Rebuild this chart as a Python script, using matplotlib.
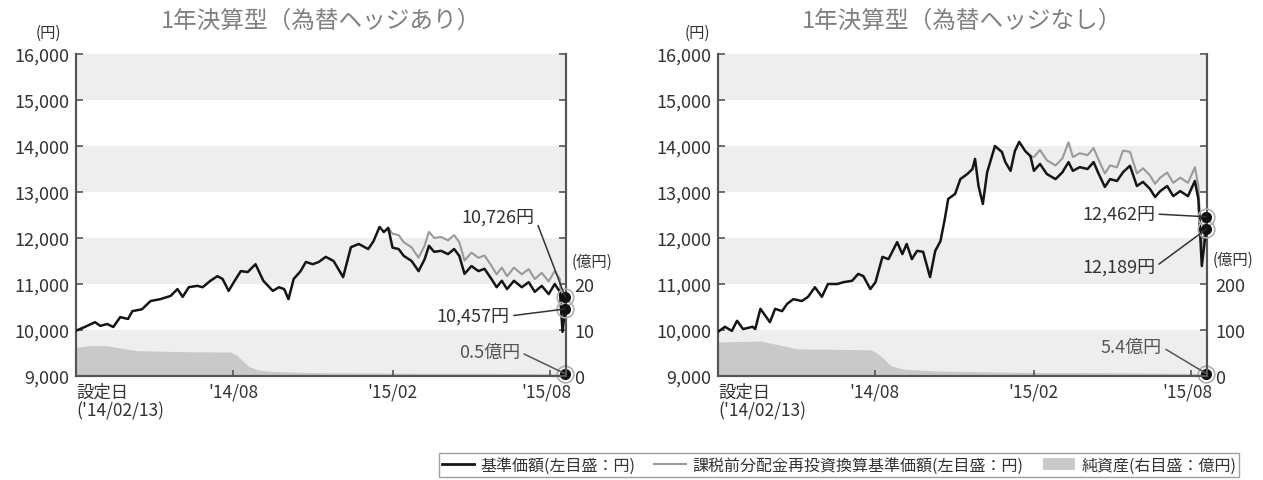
import matplotlib
matplotlib.use('Agg')
import matplotlib.pyplot as plt
from matplotlib.lines import Line2D
from matplotlib.patches import Patch, Rectangle
from matplotlib.ticker import FuncFormatter
from matplotlib.transforms import blended_transform_factory

plt.rcParams['font.family'] = ['Noto Sans CJK JP', 'DejaVu Sans']

# ---------------- data ----------------
titles = ['1年決算型（為替ヘッジあり）', '1年決算型（為替ヘッジなし）']
x_tick_days = [0, 181, 365, 546]
x_tick_labels = ["設定日\n('14/02/13)", "'14/08", "'15/02", "'15/08"]
legend_labels = ['基準価額(左目盛：円)', '課税前分配金再投資換算基準価額(左目盛：円)', '純資産(右目盛：億円)']

# hedged: NAV (days since launch, yen)
h_days = [0, 10, 22, 28, 36, 43, 51, 60, 65, 76, 86, 97, 109, 117, 123, 130, 140, 146,
          155, 163, 169, 176, 182, 190, 198, 207, 216, 227, 234, 240, 245, 251, 259, 265,
          273, 280, 288, 297, 308, 317, 326, 337, 343, 350, 355, 360, 365, 372, 378, 387,
          395, 402, 407, 413, 421, 429, 436, 442, 448, 456, 464, 471, 479, 485, 491, 497,
          505, 514, 522, 529, 537, 545, 552, 558, 561, 564]
h_nav = [9985, 10065, 10170, 10090, 10130, 10065, 10280, 10240, 10410, 10450, 10630, 10670,
         10740, 10890, 10720, 10930, 10960, 10930, 11070, 11170, 11110, 10850, 11040, 11280,
         11260, 11430, 11070, 10850, 10930, 10890, 10670, 11110, 11280, 11480, 11430, 11480,
         11590, 11500, 11150, 11800, 11870, 11760, 11930, 12240, 12130, 12220, 11790, 11760,
         11610, 11500, 11280, 11540, 11830, 11700, 11720, 11650, 11760, 11610, 11220, 11390,
         11280, 11330, 11110, 10930, 11070, 10890, 11070, 10930, 11040, 10830, 10960, 10780,
         11000, 10830, 9960, 10457]
# hedged: NAV with distributions reinvested (differs after first settlement)
h_re_days = [360, 365, 372, 378, 387, 395, 402, 407, 413, 421, 429, 436, 442, 448, 456, 464,
             471, 479, 485, 491, 497, 505, 514, 522, 529, 537, 545, 552, 558, 561, 564]
h_re_nav = [12220, 12093, 12062, 11908, 11796, 11570, 11835, 12134, 12001, 12021, 11949,
            12062, 11908, 11508, 11683, 11570, 11621, 11396, 11211, 11356, 11170, 11356,
            11211, 11324, 11108, 11242, 11057, 11283, 11108, 10216, 10726]
# hedged: net assets (100M yen)
h_asset_days = [0, 15, 35, 70, 120, 178, 185, 192, 200, 210, 225, 282, 400, 500, 564]
h_assets = [6.2, 6.6, 6.6, 5.5, 5.3, 5.2, 4.6, 3.3, 2.0, 1.3, 1.0, 0.7, 0.6, 0.55, 0.5]

# unhedged
u_days = [0, 8, 16, 22, 29, 40, 43, 49, 60, 66, 74, 80, 87, 97, 104, 112, 120, 127, 138,
          145, 155, 162, 168, 176, 182, 190, 197, 207, 213, 218, 224, 230, 237, 245, 251,
          257, 262, 266, 274, 280, 288, 294, 297, 301, 306, 311, 320, 328, 332, 338, 343,
          348, 355, 361, 365, 372, 380, 390, 398, 405, 410, 418, 427, 434, 439, 447, 453,
          461, 468, 476, 484, 491, 499, 505, 511, 519, 526, 534, 543, 551, 555, 559, 564]
u_nav = [9960, 10070, 9980, 10200, 10020, 10070, 10020, 10460, 10170, 10460, 10410, 10570,
         10670, 10630, 10720, 10930, 10720, 11000, 11000, 11040, 11070, 11220, 11170, 10890,
         11040, 11590, 11540, 11910, 11650, 11870, 11540, 11720, 11700, 11150, 11720, 11930,
         12410, 12850, 12960, 13280, 13390, 13500, 13720, 13130, 12740, 13430, 14000, 13870,
         13650, 13460, 13890, 14090, 13890, 13780, 13460, 13610, 13390, 13280, 13430, 13650,
         13460, 13540, 13500, 13650, 13430, 13110, 13280, 13240, 13430, 13570, 13130, 13220,
         13070, 12890, 13020, 13130, 12910, 13020, 12910, 13240, 12850, 11390, 12189]
u_re_days = [361, 365, 372, 380, 390, 398, 405, 410, 418, 427, 434, 439, 447, 453, 461, 468,
             476, 484, 491, 499, 505, 511, 519, 526, 534, 543, 551, 555, 559, 564]
u_re_nav = [13780, 13761, 13914, 13690, 13577, 13731, 14080, 13761, 13843, 13802, 13956,
            13731, 13404, 13577, 13537, 13900, 13874, 13404, 13516, 13363, 13178, 13312,
            13424, 13199, 13312, 13199, 13537, 13138, 11645, 12462]
u_asset_days = [0, 49, 92, 176, 182, 190, 200, 215, 250, 350, 450, 564]
u_assets = [74, 76, 59, 57, 52, 40, 22, 15, 11, 8, 7, 5.4]

nav_label_fmt = '{:,}円'
asset_label_fmt = '{}億円'

panels = [
    dict(title=titles[0], days=h_days, nav=h_nav, re_days=h_re_days, re_nav=h_re_nav,
         a_days=h_asset_days, assets=h_assets, rmax=70, rstep=10, rlabmax=20,
         x0=76, x1=566, re_txt=(529, 12457), nav_txt=(500, 10304), a_txt=(512, 5.2),
         unit_x=572, unit_y=262, yen_x=48),
    dict(title=titles[1], days=u_days, nav=u_nav, re_days=u_re_days, re_nav=u_re_nav,
         a_days=u_asset_days, assets=u_assets, rmax=700, rstep=100, rlabmax=200,
         x0=718, x1=1207, re_txt=(505, 12522), nav_txt=(505, 11370), a_txt=(513, 63),
         unit_x=1213, unit_y=260, yen_x=697),
]

W, H = 1263, 481
fig = plt.figure(figsize=(W / 100, H / 100), dpi=100)

SPINE = '#555555'
TXT = '#333333'
BAND = '#eeeeee'
AREA = '#c9c9c9'
GREY_LINE = '#9a9a9a'
FS = 13
y_top, y_bot = 55, 377

for p in panels:
    ax2 = fig.add_axes([p['x0'] / W, 1 - y_bot / H, (p['x1'] - p['x0']) / W, (y_bot - y_top) / H])
    ax = ax2.twinx()
    ax.yaxis.set_ticks_position('left')
    ax.yaxis.set_label_position('left')
    ax2.yaxis.set_ticks_position('right')
    ax2.yaxis.set_label_position('right')
    ax.patch.set_visible(False)

    ax2.set_xlim(0, 565)
    ax.set_ylim(9000, 16000)
    ax2.set_ylim(0, p['rmax'])

    # alternating bands
    tr = blended_transform_factory(ax2.transAxes, ax.transData)
    for lo in [9000, 11000, 13000, 15000]:
        ax2.add_patch(Rectangle((0, lo), 1, 1000, transform=tr, facecolor=BAND,
                                edgecolor='none', zorder=0))

    ax2.fill_between(p['a_days'], p['assets'], 0, color=AREA, lw=0, zorder=1)
    ax.plot(p['re_days'], p['re_nav'], color=GREY_LINE, lw=1.5, zorder=2)
    ax.plot(p['days'], p['nav'], color='#151515', lw=1.8, zorder=3)

    # end dots
    for a, xs, ys in [(ax, p['re_days'], p['re_nav']), (ax, p['days'], p['nav']),
                      (ax2, p['a_days'], p['assets'])]:
        a.plot([xs[-1]], [ys[-1]], 'o', ms=12, mfc='none', mec='#b0b0b0', mew=1.2,
               clip_on=False, zorder=6)
        a.plot([xs[-1]], [ys[-1]], 'o', ms=7, color='#111111', clip_on=False, zorder=7)

    # annotations
    arrow = dict(arrowstyle='-', color='#333333', lw=1.1, shrinkA=1, shrinkB=0, relpos=(1, 0.5))
    ax.annotate(nav_label_fmt.format(p['re_nav'][-1]), xy=(p['re_days'][-1], p['re_nav'][-1]),
                xytext=p['re_txt'], ha='right', va='center', fontsize=FS, color=TXT,
                arrowprops=arrow, zorder=8, annotation_clip=False)
    ax.annotate(nav_label_fmt.format(p['nav'][-1]), xy=(p['days'][-1], p['nav'][-1]),
                xytext=p['nav_txt'], ha='right', va='center', fontsize=FS, color=TXT,
                arrowprops=arrow, zorder=8, annotation_clip=False)
    ax2.annotate(asset_label_fmt.format(p['assets'][-1]), xy=(p['a_days'][-1], p['assets'][-1]),
                 xytext=p['a_txt'], ha='right', va='center', fontsize=FS, color='#555555',
                 arrowprops=dict(arrow, color='#555555'), zorder=8, annotation_clip=False)

    # axes styling
    for a in (ax, ax2):
        a.spines['top'].set_visible(False)
        for s in ('left', 'right', 'bottom'):
            a.spines[s].set_color(SPINE)
            a.spines[s].set_linewidth(1.5)
    ax.set_yticks(range(9000, 16001, 1000))
    ax.yaxis.set_major_formatter(FuncFormatter(lambda v, pos: f'{int(v):,}'))
    ax.tick_params(axis='y', direction='in', length=5, width=1.2, color=SPINE,
                   labelcolor=TXT, labelsize=FS, pad=5)
    rmax, rstep, rlabmax = p['rmax'], p['rstep'], p['rlabmax']
    ax2.set_yticks(range(0, rmax + 1, rstep))
    ax2.yaxis.set_major_formatter(FuncFormatter(
        lambda v, pos, m=rlabmax: f'{int(v)}' if v <= m else ''))
    ax2.tick_params(axis='y', direction='in', length=5, width=1.2, color=SPINE,
                    labelcolor=TXT, labelsize=FS, pad=6)
    ax2.set_xticks(x_tick_days)
    ax2.set_xticklabels(x_tick_labels)
    ax2.tick_params(axis='x', direction='in', length=4, width=1.2, color=SPINE,
                    labelcolor=TXT, labelsize=12.5, pad=5)
    xlbls = ax2.get_xticklabels()
    xlbls[0].set_ha('left')
    xlbls[0].set_multialignment('left')
    xlbls[0].set_linespacing(1.05)
    xlbls[-1].set_ha('right')
    xlbls[-1].set_x(x_tick_days[-1])
    # nudge last label so it ends just before the right axis labels
    import matplotlib.transforms as mtrans
    xlbls[-1].set_transform(xlbls[-1].get_transform() +
                            mtrans.ScaledTranslation(22 / 100, 0, fig.dpi_scale_trans))

    # titles and unit labels
    fig.text((p['x0'] + p['x1']) / 2 / W, 1 - 21 / H, p['title'], ha='center', va='center',
             fontsize=17, color='#808080')
    fig.text(p['yen_x'] / W, 1 - 33 / H, '(円)', ha='center', va='center', fontsize=11,
             color=TXT)
    fig.text(p['unit_x'] / W, 1 - p['unit_y'] / H, '(億円)', ha='left', va='center',
             fontsize=11, color=TXT)

handles = [Line2D([], [], color='#151515', lw=2),
           Line2D([], [], color=GREY_LINE, lw=1.5),
           Patch(facecolor=AREA, edgecolor='none')]
leg = fig.legend(handles, legend_labels, loc='center', bbox_to_anchor=(839 / W, 1 - 466 / H),
                 ncol=3, frameon=True, fancybox=False, fontsize=11.5, handlelength=2,
                 columnspacing=1.2, borderpad=0.2, handletextpad=0.4)
leg.get_frame().set_edgecolor('#888888')
leg.get_frame().set_linewidth(1.0)
for t in leg.get_texts():
    t.set_color(TXT)

fig.savefig('out.png', dpi=100)
